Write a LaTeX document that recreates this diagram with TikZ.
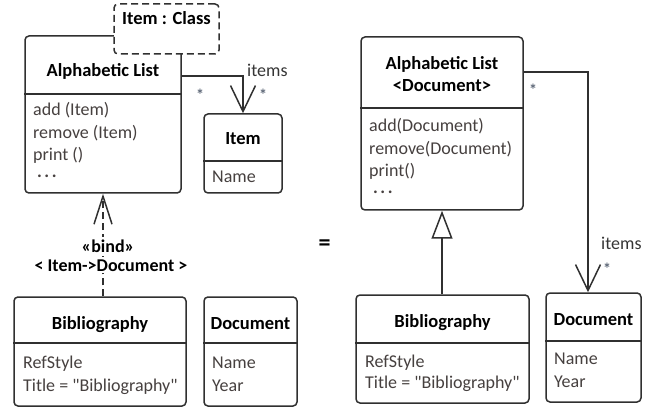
\documentclass[tikz,border=0pt]{standalone}
\usepackage{fontspec}
\setmainfont{Carlito}
\usetikzlibrary{arrows.meta}
\definecolor{edge}{HTML}{303030}
\definecolor{body}{HTML}{46403F}
\definecolor{mult}{HTML}{5E6878}
\definecolor{lbl}{HTML}{353535}

\tikzset{
  cls/.style={draw=edge, line width=1.5pt, rounded corners=4pt, fill=white, inner sep=0pt},
  tmpl/.style={cls, dash pattern=on 7pt off 4pt},
  divider/.style={draw=edge, line width=1.5pt},
  title/.style={font=\fontsize{18.5}{21}\selectfont\bfseries, anchor=base, inner sep=0pt, text=black},
  attr/.style={font=\fontsize{18}{21}\selectfont, anchor=base west, inner sep=0pt, text=body},
  tag/.style={font=\fontsize{18}{21}\selectfont, anchor=base west, inner sep=0pt, text=lbl},
  star/.style={font=\fontsize{16}{18}\selectfont\bfseries, inner sep=0pt, text=mult},
  assoc/.style={draw=edge, line width=1.5pt, -{Straight Barb[length=26pt,width=25pt]}},
  bind/.style={draw=edge, line width=1.5pt, dash pattern=on 7pt off 4pt,
    -{Straight Barb[length=28pt,width=18pt]}},
  inherit/.style={draw=edge, line width=1.5pt, -{Triangle[open,fill=white,length=28pt,width=21pt]}},
  bindlbl/.style={font=\fontsize{18}{21}\selectfont\bfseries, anchor=base, inner sep=2pt, fill=white, text=black},
}

\begin{document}
\begin{tikzpicture}[x=1pt,y=-1pt]
\useasboundingbox (0,0) rectangle (654,409);

% ---------- template class Alphabetic List ----------
\node[cls, minimum width=156pt, minimum height=157pt] (al) at (103,114.5) {};
\draw[divider] (al.west |- 0,94) -- (al.east |- 0,94);
\node[title] (al-t) at (103,77) {Alphabetic List};
\node[attr] (al-a1) at (33,116) {add (Item)};
\node[attr] (al-a2) at (33,139) {remove (Item)};
\node[attr] (al-a3) at (33,161) {print ()};
\node[attr] (al-a4) at (37,178) {\textbf{.\hspace{2.5pt}.\hspace{2.5pt}.}};

% template parameter
\node[tmpl, minimum width=105pt, minimum height=50pt] (par) at (166.5,29) {};
\node[title] (par-t) at (166.5,25) {Item : Class};

% ---------- Item ----------
\node[cls, minimum width=78pt, minimum height=79pt] (item) at (243,153.5) {};
\draw[divider] (item.west |- 0,161) -- (item.east |- 0,161);
\node[title] (item-t) at (243,145) {Item};
\node[attr] (item-a1) at (212,183) {Name};

\draw[assoc] (al.east |- 0,76) -| (item.north);
\node[tag] (items1) at (247,77) {items};
\node[star] (s1) at (200,95) {*};
\node[star] (s2) at (263,95) {*};

% ---------- Bibliography (bound) ----------
\node[cls, minimum width=172pt, minimum height=109pt] (bib) at (100,351.5) {};
\draw[divider] (bib.west |- 0,343) -- (bib.east |- 0,343);
\node[title] (bib-t) at (100,329) {Bibliography};
\node[attr] (bib-a1) at (23,368) {RefStyle};
\node[attr] (bib-a2) at (23,391) {Title = \textquotedbl Bibliography\textquotedbl};

\draw[bind] (bib.north -| al.south) -- (al.south);
\node[bindlbl] (bind1) at (108,252) {«bind»};
\node[bindlbl] (bind2) at (111,271) {< Item->Document >};

% ---------- Document ----------
\node[cls, minimum width=93pt, minimum height=109pt] (doc) at (250.5,351.5) {};
\draw[divider] (doc.west |- 0,343) -- (doc.east |- 0,343);
\node[title] (doc-t) at (250.5,329) {Document};
\node[attr] (doc-a1) at (212,368) {Name};
\node[attr] (doc-a2) at (212,391) {Year};

% ---------- equals ----------
\node[font=\fontsize{24}{24}\selectfont\bfseries, inner sep=0pt] (eq) at (324.5,245) {=};

% ---------- Alphabetic List<Document> ----------
\node[cls, minimum width=162pt, minimum height=173pt] (ral) at (442,123.5) {};
\draw[divider] (ral.west |- 0,108) -- (ral.east |- 0,108);
\node[title] (ral-t1) at (442,70) {Alphabetic List};
\node[title] (ral-t2) at (442,92) {<Document>};
\node[attr] (ral-a1) at (369,132) {add(Document)};
\node[attr] (ral-a2) at (369,155) {remove(Document)};
\node[attr] (ral-a3) at (369,177) {print()};
\node[attr] (ral-a4) at (373,194) {\textbf{.\hspace{2.5pt}.\hspace{2.5pt}.}};

% ---------- Document (right) ----------
\node[cls, minimum width=95pt, minimum height=109pt] (rdoc) at (593.5,347.5) {};
\draw[divider] (rdoc.west |- 0,341) -- (rdoc.east |- 0,341);
\node[title] (rdoc-t) at (593.5,325) {Document};
\node[attr] (rdoc-a1) at (554,364) {Name};
\node[attr] (rdoc-a2) at (554,387) {Year};

\draw[assoc] (ral.east |- 0,72) -| (rdoc.north -| 588,0);
\node[star] (s3) at (533,90) {*};
\node[tag] (items2) at (601,250) {items};
\node[star] (s4) at (607,269) {*};

% ---------- Bibliography (right) ----------
\node[cls, minimum width=173pt, minimum height=108pt] (rbib) at (442.5,349) {};
\draw[divider] (rbib.west |- 0,343) -- (rbib.east |- 0,343);
\node[title] (rbib-t) at (442.5,327) {Bibliography};
\node[attr] (rbib-a1) at (365,367) {RefStyle};
\node[attr] (rbib-a2) at (365,388) {Title = \textquotedbl Bibliography\textquotedbl};

\draw[inherit] (rbib.north -| ral.south) -- (ral.south);
\end{tikzpicture}
\end{document}
